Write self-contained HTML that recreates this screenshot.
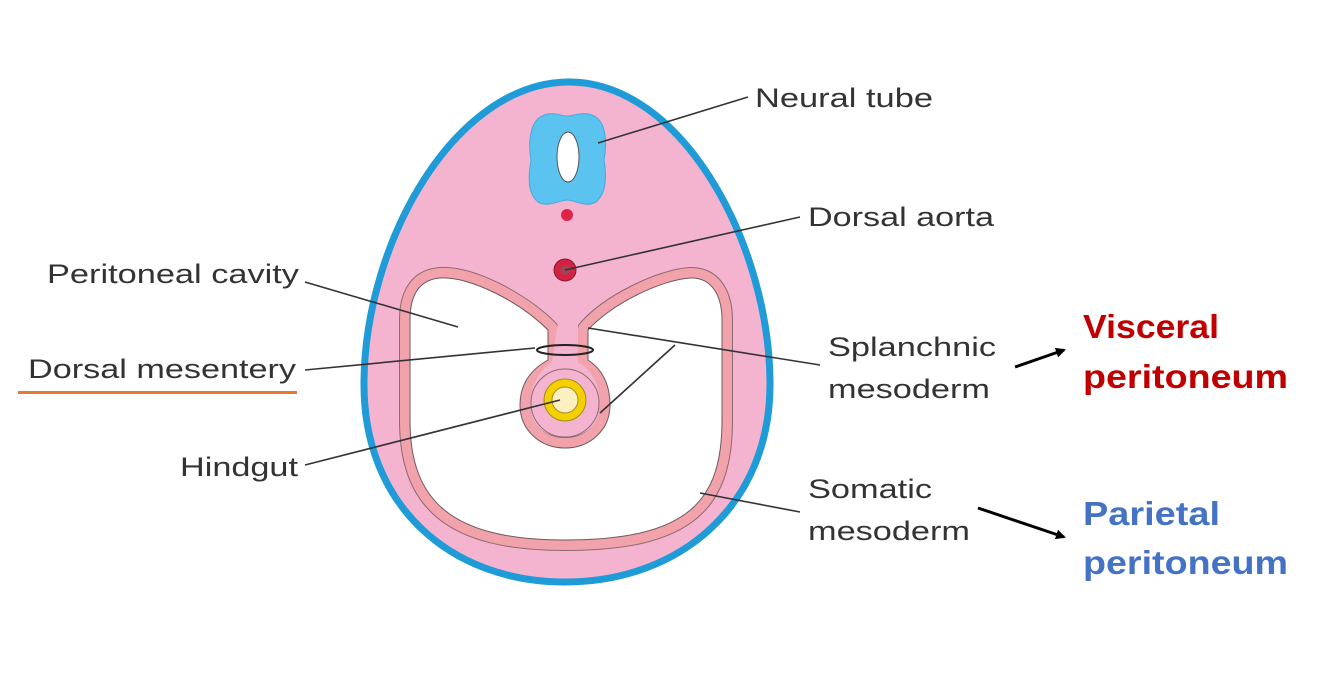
<!DOCTYPE html>
<html><head><meta charset="utf-8"><style>
html,body{margin:0;padding:0;background:#fff;}
svg{display:block;}
text{font-family:"Liberation Sans",sans-serif;}
</style></head><body>
<svg width="1336" height="676" viewBox="0 0 1336 676" xmlns="http://www.w3.org/2000/svg">
<defs>
<marker id="ah" markerWidth="10" markerHeight="10" refX="8" refY="5" orient="auto" markerUnits="userSpaceOnUse">
<path d="M0,0 L10,5 L0,10 z" fill="#000"/>
</marker>
</defs>
<!-- egg body -->
<path d="M567,82 C680,80 768,240 770,380 C772,505 680,582 565,582 C450,582 362,505 364,380 C366,240 455,84 567,82 Z" fill="#f4b4d0" stroke="#1f9bd7" stroke-width="7"/>
<!-- neural tube -->
<path d="M540,117 C552,110 560,116 567,116 C574,116 585,110 596,117 C608,125 606,150 604,160 C606,172 608,192 596,202 C585,208 575,200 567,200 C559,200 549,208 538,202 C526,192 529,172 531,160 C529,150 528,125 540,117 Z" fill="#5bc3ef" stroke="#4aa8d8" stroke-width="1"/>
<ellipse cx="568" cy="157" rx="11" ry="25" fill="#fff" stroke="#555" stroke-width="1"/>
<circle cx="567" cy="215" r="6" fill="#e0224a"/>
<circle cx="565" cy="270" r="11" fill="#d6203f" stroke="#7a2030" stroke-width="1"/>
<circle cx="565" cy="270" r="5" fill="#a04458"/>
<!-- cavity -->
<g>
<path id="cav" d="M548,330 C520,302 470,276 440,278 C416,280 410,300 410,320 L410,420 C410,500 450,540 565,540 C690,540 722,500 722,420 L722,320 C722,296 712,277 690,278 C660,280 610,305 588,330 L588,360 C603,370 610,385 610,405 C610,430 590,448 565,448 C540,448 520,430 520,405 C520,385 530,370 548,360 Z" fill="none" stroke="#8a6a70" stroke-width="22" stroke-linejoin="round"/>
<path d="M548,330 C520,302 470,276 440,278 C416,280 410,300 410,320 L410,420 C410,500 450,540 565,540 C690,540 722,500 722,420 L722,320 C722,296 712,277 690,278 C660,280 610,305 588,330 L588,360 C603,370 610,385 610,405 C610,430 590,448 565,448 C540,448 520,430 520,405 C520,385 530,370 548,360 Z" fill="none" stroke="#f2a2aa" stroke-width="20" stroke-linejoin="round"/>
<path d="M548,330 C520,302 470,276 440,278 C416,280 410,300 410,320 L410,420 C410,500 450,540 565,540 C690,540 722,500 722,420 L722,320 C722,296 712,277 690,278 C660,280 610,305 588,330 L588,360 C603,370 610,385 610,405 C610,430 590,448 565,448 C540,448 520,430 520,405 C520,385 530,370 548,360 Z" fill="#fff" stroke="#6a5a5e" stroke-width="1"/>
</g>
<!-- stalk pink fill over band area -->
<path d="M558,322 L578,322 L578,362 C592,370 600,385 600,405 C600,425 585,437 565,437 C545,437 530,425 530,405 C530,385 540,370 552,362 Z" fill="#f4b4d0"/>
<circle cx="565" cy="403" r="34" fill="none" stroke="#8a6a70" stroke-width="1"/>
<circle cx="565" cy="400" r="21" fill="#f5d000" stroke="#a08a20" stroke-width="1"/>
<circle cx="565" cy="400" r="13" fill="#fdf0c0" stroke="#a08a20" stroke-width="1"/>
<ellipse cx="565" cy="350" rx="28" ry="5" fill="none" stroke="#222" stroke-width="2"/>
<!-- leaders -->
<g stroke="#333" stroke-width="1.6" fill="none">
<line x1="598" y1="143" x2="748" y2="97"/>
<line x1="565" y1="270" x2="800" y2="217"/>
<line x1="305" y1="282" x2="458" y2="327"/>
<line x1="305" y1="370" x2="535" y2="348"/>
<line x1="588" y1="328" x2="820" y2="365"/>
<line x1="600" y1="413" x2="675" y2="345"/>
<line x1="305" y1="465" x2="560" y2="400"/>
<line x1="700" y1="493" x2="800" y2="512"/>
</g>
<!-- labels -->
<g fill="#333" font-size="27">
<text x="755" y="107" textLength="178" lengthAdjust="spacingAndGlyphs">Neural tube</text>
<text x="808" y="226" textLength="186" lengthAdjust="spacingAndGlyphs">Dorsal aorta</text>
<text x="47" y="283" textLength="252" lengthAdjust="spacingAndGlyphs">Peritoneal cavity</text>
<text x="28" y="378" textLength="268" lengthAdjust="spacingAndGlyphs">Dorsal mesentery</text>
<text x="180" y="476" textLength="118" lengthAdjust="spacingAndGlyphs">Hindgut</text>
<text x="828" y="356" textLength="168" lengthAdjust="spacingAndGlyphs">Splanchnic</text>
<text x="828" y="398" textLength="162" lengthAdjust="spacingAndGlyphs">mesoderm</text>
<text x="808" y="498" textLength="124" lengthAdjust="spacingAndGlyphs">Somatic</text>
<text x="808" y="540" textLength="162" lengthAdjust="spacingAndGlyphs">mesoderm</text>
</g>
<rect x="18" y="391" width="279" height="3" fill="#e87a30"/>
<g font-weight="bold" font-size="33">
<text x="1083" y="338" fill="#c00000" textLength="136" lengthAdjust="spacingAndGlyphs">Visceral</text>
<text x="1083" y="388" fill="#c00000" textLength="205" lengthAdjust="spacingAndGlyphs">peritoneum</text>
<text x="1083" y="525" fill="#4472c4" textLength="137" lengthAdjust="spacingAndGlyphs">Parietal</text>
<text x="1083" y="574" fill="#4472c4" textLength="205" lengthAdjust="spacingAndGlyphs">peritoneum</text>
</g>
<line x1="1015" y1="367" x2="1064" y2="350" stroke="#000" stroke-width="3" marker-end="url(#ah)"/>
<line x1="978" y1="508" x2="1064" y2="537" stroke="#000" stroke-width="3" marker-end="url(#ah)"/>
</svg>
</body></html>
